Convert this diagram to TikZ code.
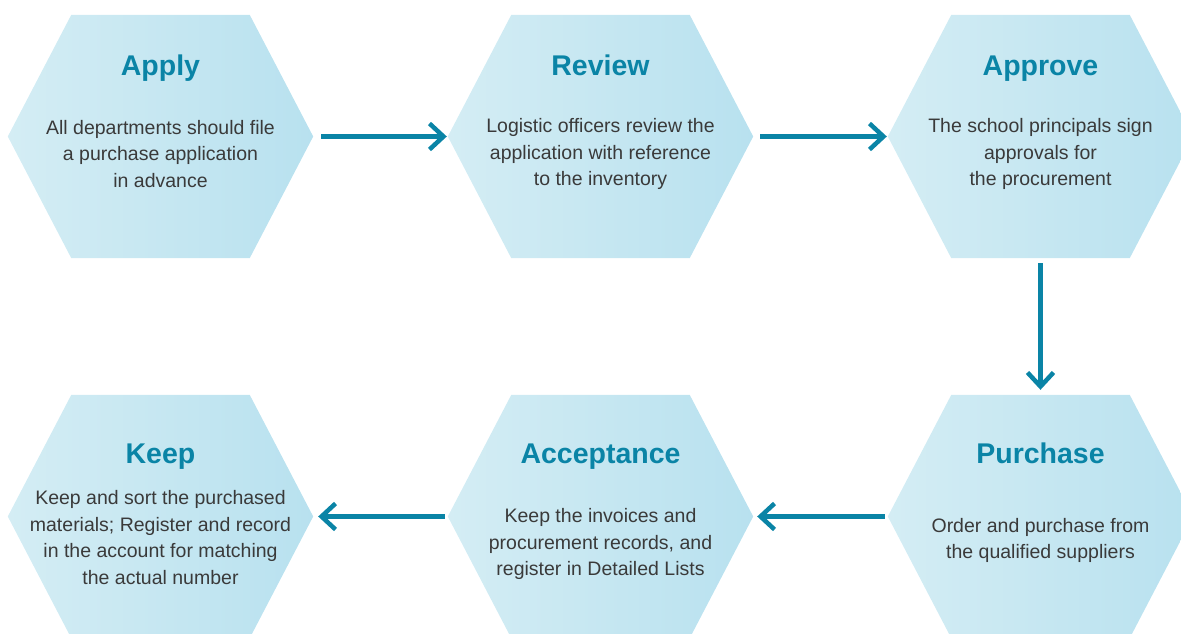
\documentclass[tikz,border=0pt]{standalone}
\usepackage{fontspec}
\setmainfont{Liberation Sans}
\usetikzlibrary{arrows.meta,positioning}
\definecolor{stepblue}{HTML}{0A84A6}
\definecolor{hexleft}{HTML}{D4EDF4}
\definecolor{hexright}{HTML}{B8E1EF}
\definecolor{bodygray}{HTML}{3A3A3A}
\tikzset{
  hexa/.style={minimum width=305pt, minimum height=243pt, inner sep=0pt},
  title/.style={font=\bfseries\fontsize{28.5}{30}\selectfont, text=stepblue, anchor=base},
  body/.style={font=\fontsize{19.5}{26.5}\selectfont, text=bodygray, align=center, inner sep=0pt},
  flow/.style={draw=stepblue, line width=4.5pt, -{Straight Barb[length=14pt,width=26pt]}},
}
\begin{document}
\begin{tikzpicture}[x=1pt,y=1pt]
  \useasboundingbox (0,0) rectangle (1181,633);
  % hexagon frames
  \node[hexa] (apply) at (160.5,496.5) {};
  \node[hexa] (review) at (600.5,496.5) {};
  \node[hexa] (approve) at (1040.5,496.5) {};
  \node[hexa] (purchase) at (1040.5,116.5) {};
  \node[hexa] (accept) at (600.5,116.5) {};
  \node[hexa] (keep) at (160.5,116.5) {};
  \foreach \n in {apply,review,approve,purchase,accept,keep}
    \shade[left color=hexleft, right color=hexright] (\n.west) -- ([xshift=63.5pt]\n.north west)
      -- ([xshift=-63.5pt]\n.north east) -- (\n.east) -- ([xshift=-63.5pt]\n.south east)
      -- ([xshift=63.5pt]\n.south west) -- cycle;
  % titles
  \node[title] (apply-t) at ([yshift=61pt]apply.center) {Apply};
  \node[title] (review-t) at ([yshift=61pt]review.center) {Review};
  \node[title] (approve-t) at ([yshift=61pt]approve.center) {Approve};
  \node[title] (purchase-t) at ([yshift=53.5pt]purchase.center) {Purchase};
  \node[title] (accept-t) at ([yshift=53.5pt]accept.center) {Acceptance};
  \node[title] (keep-t) at ([yshift=53.5pt]keep.center) {Keep};
  % texts
  \node[body] (apply-b) at ([yshift=-17.5pt]apply.center) {All departments should file\\a purchase application\\in advance};
  \node[body] (review-b) at ([yshift=-17.5pt]review.center) {Logistic officers review the\\application with reference\\to the inventory};
  \node[body] (approve-b) at ([yshift=-17.5pt]approve.center) {The school principals sign\\approvals for\\the procurement};
  \node[body] (purchase-b) at ([yshift=-24pt]purchase.center) {Order and purchase from\\the qualified suppliers};
  \node[body] (accept-b) at ([yshift=-27.5pt]accept.center) {Keep the invoices and\\procurement records, and\\register in Detailed Lists};
  \node[body] (keep-b) at ([yshift=-21pt]keep.center) {Keep and sort the purchased\\materials; Register and record\\in the account for matching\\the actual number};
  % arrows
  \draw[flow, shorten <=8pt, shorten >=1pt] (apply) -- (review);
  \draw[flow, shorten <=7pt, shorten >=1pt] (review) -- (approve);
  \draw[flow, shorten <=5pt, shorten >=5pt] (approve) -- (purchase);
  \draw[flow, shorten <=3pt, shorten >=4pt] (purchase) -- (accept);
  \draw[flow, shorten <=3pt, shorten >=5pt] (accept) -- (keep);
\end{tikzpicture}
\end{document}
